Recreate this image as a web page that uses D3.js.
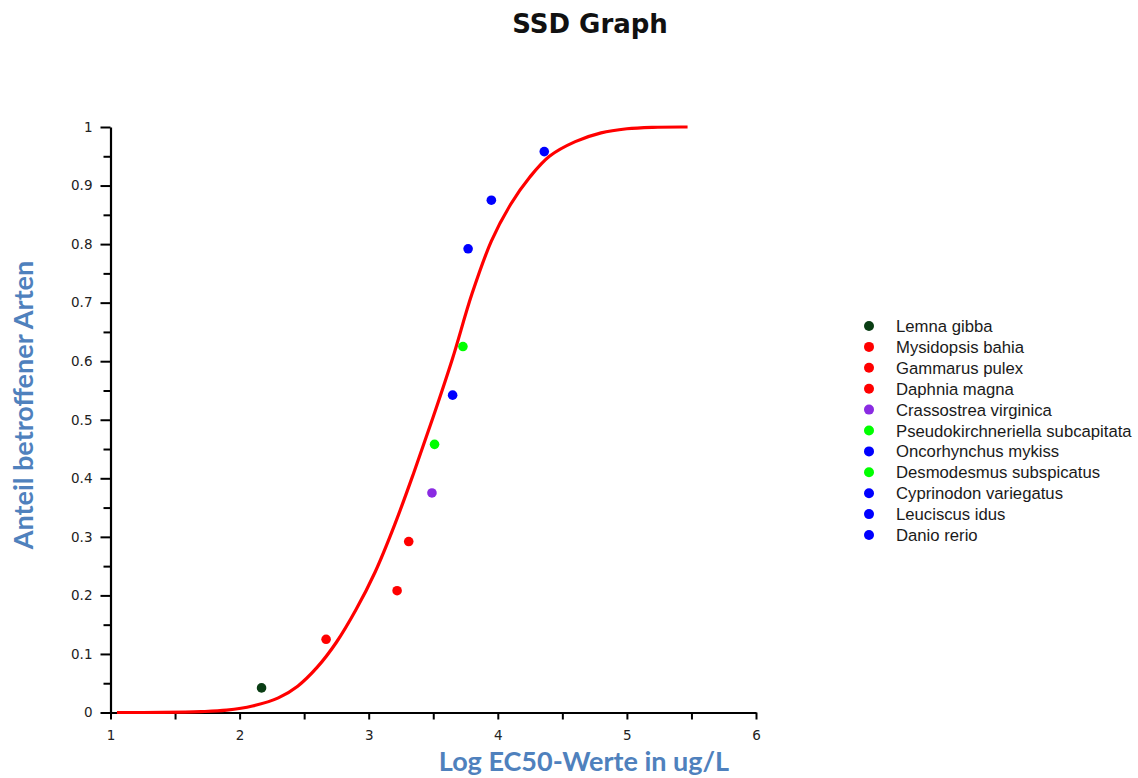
<!DOCTYPE html>
<html>
<head>
<meta charset="utf-8">
<script src="https://cdn.jsdelivr.net/npm/d3@7"></script>
<style>
  html, body { margin: 0; padding: 0; background: #ffffff; }
  svg { display: block; }
</style>
</head>
<body>
<svg id="chart" width="1138" height="778"></svg>
<script>
// ---- data ----
const species = [
  "Lemna gibba", "Mysidopsis bahia", "Gammarus pulex", "Daphnia magna",
  "Crassostrea virginica", "Pseudokirchneriella subcapitata", "Oncorhynchus mykiss",
  "Desmodesmus subspicatus", "Cyprinodon variegatus", "Leuciscus idus", "Danio rerio"
];
const speciesColors = [
  "#0a3d14", "#ff0000", "#ff0000", "#ff0000", "#8a2be2", "#00ff00",
  "#0000ff", "#00ff00", "#0000ff", "#0000ff", "#0000ff"
];
const logEC50 = [2.17, 2.67, 3.22, 3.31, 3.49, 3.51, 3.65, 3.73, 3.77, 3.95, 4.36];
const affectedFraction = [0.042, 0.125, 0.208, 0.292, 0.375, 0.458, 0.542, 0.625, 0.792, 0.875, 0.958];

// fitted SSD curve
const curveX = [1.05, 1.4, 1.7, 1.9, 2.1, 2.3, 2.45, 2.6, 2.75, 2.9, 3.05, 3.2, 3.35, 3.5, 3.65, 3.8, 3.95, 4.1, 4.25, 4.4, 4.6, 4.8, 5.0, 5.2, 5.47];
const curveY = [0, 0.0002, 0.0015, 0.004, 0.011, 0.025, 0.045, 0.077, 0.12, 0.175, 0.24, 0.32, 0.41, 0.505, 0.605, 0.715, 0.805, 0.868, 0.915, 0.95, 0.975, 0.99, 0.997, 0.9995, 1.0];

const xTicks = [1, 2, 3, 4, 5, 6];
const xMinorTicks = [1.5, 2.5, 3.5, 4.5, 5.5];
const yTicks = [0, 0.1, 0.2, 0.3, 0.4, 0.5, 0.6, 0.7, 0.8, 0.9, 1];
const yTickLabels = ["0", "0.1", "0.2", "0.3", "0.4", "0.5", "0.6", "0.7", "0.8", "0.9", "1"];
const yMinorTicks = [0.05, 0.15, 0.25, 0.35, 0.45, 0.55, 0.65, 0.75, 0.85, 0.95];

const titleText = "SSD Graph";
const xTitle = "Log EC50-Werte in ug/L";
const yTitle = "Anteil betroffener Arten";

// ---- drawing ----
const svg = d3.select("#chart");
const x = d3.scaleLinear().domain([1, 6]).range([110.5, 756]);
const y = d3.scaleLinear().domain([0, 1]).range([712.5, 127]);

const tickFont = "'DejaVu Sans', sans-serif";

// title
svg.append("text")
  .attr("x", 590).attr("y", 33)
  .attr("text-anchor", "middle")
  .style("font-family", "'DejaVu Sans', sans-serif")
  .style("font-weight", "bold")
  .style("font-size", "26px")
  .style("fill", "#111")
  .text(titleText);

// minor ticks
svg.append("g")
  .attr("transform", `translate(0,${y(0)})`)
  .call(d3.axisBottom(x).tickValues(xMinorTicks).tickSize(7).tickSizeOuter(0).tickFormat(""))
  .call(g => g.select(".domain").remove())
  .call(g => g.selectAll("line").attr("stroke", "#000").attr("stroke-width", 2));

svg.append("g")
  .attr("transform", `translate(${x(1)},0)`)
  .call(d3.axisLeft(y).tickValues(yMinorTicks).tickSize(7).tickSizeOuter(0).tickFormat(""))
  .call(g => g.select(".domain").remove())
  .call(g => g.selectAll("line").attr("stroke", "#000").attr("stroke-width", 2));

// major axes
const xAxis = svg.append("g")
  .attr("transform", `translate(0,${y(0)})`)
  .call(d3.axisBottom(x).tickValues(xTicks).tickSize(7).tickSizeOuter(0).tickPadding(11).tickFormat(d3.format("d")));
xAxis.select(".domain").attr("stroke", "#000").attr("stroke-width", 2.2);
xAxis.selectAll(".tick line").attr("stroke", "#000").attr("stroke-width", 2);
xAxis.selectAll(".tick text")
  .style("font-family", tickFont).style("font-size", "13.5px").style("fill", "#222");

const yAxis = svg.append("g")
  .attr("transform", `translate(${x(1)},0)`)
  .call(d3.axisLeft(y).tickValues(yTicks).tickSize(10).tickSizeOuter(0).tickPadding(8)
    .tickFormat((d, i) => yTickLabels[i]));
yAxis.select(".domain").attr("stroke", "#000").attr("stroke-width", 2.2);
yAxis.selectAll(".tick line").attr("stroke", "#000").attr("stroke-width", 2);
yAxis.selectAll(".tick text")
  .style("font-family", tickFont).style("font-size", "13.5px").style("fill", "#222");

// axis titles
svg.append("text")
  .attr("x", 584).attr("y", 771)
  .attr("text-anchor", "middle")
  .style("font-family", "Lato, 'Open Sans', sans-serif")
  .style("font-weight", "bold")
  .style("font-size", "27px")
  .style("fill", "#4f81bd")
  .text(xTitle);

svg.append("text")
  .attr("transform", "translate(33,405) rotate(-90)")
  .attr("text-anchor", "middle")
  .style("font-family", "Lato, 'Open Sans', sans-serif")
  .style("font-weight", "bold")
  .style("font-size", "27px")
  .style("fill", "#4f81bd")
  .text(yTitle);

// fitted curve
const curveData = curveX.map((cx, i) => ({ x: cx, y: curveY[i] }));
svg.append("path")
  .datum(curveData)
  .attr("fill", "none")
  .attr("stroke", "#ff0000")
  .attr("stroke-width", 3.2)
  .attr("stroke-linejoin", "round")
  .attr("d", d3.line().x(d => x(d.x)).y(d => y(d.y)).curve(d3.curveCatmullRom.alpha(0.5)));

// species points
const pts = species.map((s, i) => ({ name: s, color: speciesColors[i], x: logEC50[i], y: affectedFraction[i] }));
svg.append("g").selectAll("circle")
  .data(pts)
  .join("circle")
  .attr("cx", d => x(d.x))
  .attr("cy", d => y(d.y))
  .attr("r", 4.8)
  .attr("fill", d => d.color);

// legend
const legend = svg.append("g").attr("transform", "translate(869,326)");
const items = legend.selectAll("g")
  .data(pts)
  .join("g")
  .attr("transform", (d, i) => `translate(0,${i * 20.9})`);
items.append("circle").attr("r", 5).attr("fill", d => d.color);
items.append("text")
  .attr("x", 27).attr("y", 0).attr("dy", "0.36em")
  .style("font-family", "'Liberation Sans', Arial, sans-serif")
  .style("font-size", "16.7px")
  .style("fill", "#1a1a1a")
  .text(d => d.name);
</script>
</body>
</html>
